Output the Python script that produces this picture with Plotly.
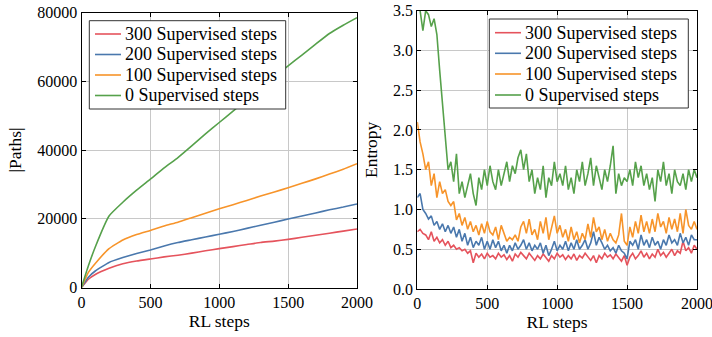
import plotly.graph_objects as go

# ---------------- data ----------------
series_names = ["300 Supervised steps", "200 Supervised steps",
                "100 Supervised steps", "0 Supervised steps"]
colors = ["#e5535c", "#4a78ad", "#f7942a", "#56a14b"]

# left panel: |Paths| vs RL steps
paths_steps = [0, 50, 100, 200, 300, 400, 500, 600, 700, 800, 900, 1000,
               1100, 1200, 1300, 1400, 1500, 1600, 1700, 1800, 1900, 2000]
paths_300 = [0, 2400, 3800, 5600, 6900, 7700, 8300, 8900, 9400, 10000, 10700, 11300,
             11900, 12500, 13100, 13500, 14000, 14600, 15200, 15800, 16400, 17000]
paths_200 = [0, 3000, 4800, 7300, 8700, 9900, 10900, 12100, 13100, 13900, 14700, 15500,
             16300, 17200, 18100, 19000, 19900, 20800, 21700, 22600, 23400, 24300]
paths_100 = [0, 4400, 7000, 11300, 13800, 15400, 16600, 17900, 19000, 20300, 21600, 22900,
             24100, 25300, 26600, 27800, 29000, 30300, 31600, 33000, 34400, 36000]
paths_0 = [0, 6300, 11800, 20800, 24800, 28300, 31500, 34800, 37800, 41200, 44700, 48000,
           51300, 54700, 58000, 61300, 64500, 67600, 70800, 73900, 76300, 78500]

# right panel: Entropy vs RL steps (every 20 steps)
entropy_steps = list(range(0, 2001, 20))
entropy_300 = [0.72, 0.75, 0.70, 0.68, 0.62, 0.72, 0.60, 0.65, 0.58, 0.62,
               0.55, 0.60, 0.52, 0.55, 0.50, 0.52, 0.48, 0.50, 0.45, 0.48,
               0.33, 0.45, 0.40, 0.44, 0.38, 0.45, 0.40, 0.42, 0.38, 0.45,
               0.40, 0.43, 0.37, 0.42, 0.35, 0.44, 0.40, 0.46, 0.42, 0.38,
               0.45, 0.40, 0.36, 0.42, 0.38, 0.44, 0.40, 0.35, 0.42, 0.38,
               0.45, 0.40, 0.43, 0.37, 0.42, 0.38, 0.44, 0.36, 0.42, 0.39,
               0.45, 0.40, 0.36, 0.42, 0.33, 0.42, 0.38, 0.45, 0.40, 0.43,
               0.38, 0.44, 0.40, 0.35, 0.42, 0.30, 0.40, 0.45, 0.38, 0.42,
               0.48, 0.40, 0.45, 0.38, 0.44, 0.40, 0.50, 0.42, 0.46, 0.40,
               0.45, 0.50, 0.42, 0.48, 0.45, 0.60, 0.48, 0.52, 0.45, 0.55,
               0.50]
entropy_200 = [1.15, 1.20, 1.00, 0.95, 0.88, 0.92, 0.80, 0.85, 0.75, 0.82,
               0.72, 0.80, 0.70, 0.78, 0.65, 0.75, 0.60, 0.70, 0.55, 0.65,
               0.52, 0.60, 0.55, 0.65, 0.50, 0.60, 0.50, 0.62, 0.52, 0.60,
               0.48, 0.55, 0.45, 0.55, 0.48, 0.58, 0.50, 0.55, 0.62, 0.50,
               0.58, 0.48, 0.55, 0.50, 0.58, 0.45, 0.55, 0.42, 0.50, 0.60,
               0.48, 0.55, 0.50, 0.60, 0.48, 0.58, 0.50, 0.62, 0.50, 0.55,
               0.62, 0.50, 0.58, 0.72, 0.55, 0.65, 0.58, 0.50, 0.55, 0.48,
               0.52, 0.45, 0.55, 0.48, 0.45, 0.38, 0.60, 0.55, 0.62, 0.50,
               0.68, 0.55, 0.62, 0.52, 0.65, 0.55, 0.60, 0.50, 0.62, 0.55,
               0.68, 0.58, 0.62, 0.55, 0.70, 0.58, 0.65, 0.55, 0.68, 0.62,
               0.62]
entropy_100 = [2.10, 1.85, 1.70, 1.50, 1.60, 1.30, 1.45, 1.15, 1.35, 1.20,
               1.25, 1.10, 1.05, 1.10, 0.87, 0.95, 0.80, 0.90, 0.75, 0.85,
               0.72, 0.80, 0.68, 0.82, 0.70, 0.85, 0.72, 0.68, 0.78, 0.62,
               0.80, 0.70, 0.60, 0.65, 0.62, 0.68, 0.60, 0.78, 0.85, 0.70,
               0.88, 0.68, 0.75, 0.62, 0.85, 0.70, 0.90, 0.62, 0.78, 0.92,
               0.70, 0.80, 0.65, 0.75, 0.60, 0.78, 0.62, 0.72, 0.58, 0.70,
               0.62, 0.82, 0.65, 0.90, 0.72, 0.78, 0.62, 0.75, 0.60, 0.70,
               0.62, 0.58, 0.68, 0.95, 0.60, 0.55, 0.78, 0.65, 0.85, 0.70,
               0.93, 0.72, 0.85, 0.70, 0.88, 0.72, 0.95, 0.78, 0.85, 0.70,
               0.90, 0.75, 0.88, 0.72, 0.95, 0.70, 1.00, 0.80, 0.75, 0.85,
               0.75]
entropy_0 = [3.60, 3.50, 3.25, 3.50, 3.45, 3.30, 3.40, 3.20, 2.75, 2.30,
             1.85, 1.50, 1.60, 1.35, 1.70, 1.20, 1.35, 1.15, 1.30, 1.45,
             1.20, 1.05, 1.40, 1.25, 1.50, 1.30, 1.55, 1.35, 1.25, 1.50,
             1.30, 1.45, 1.60, 1.35, 1.55, 1.45, 1.65, 1.75, 1.50, 1.70,
             1.35, 1.50, 1.20, 1.40, 1.25, 1.55, 1.15, 1.40, 1.30, 1.60,
             1.35, 1.45, 1.30, 1.55, 1.25, 1.40, 1.20, 1.50, 1.35, 1.60,
             1.30, 1.45, 1.65, 1.30, 1.55, 1.40, 1.25, 1.50, 1.35, 1.55,
             1.80, 1.20, 1.45, 1.30, 1.40, 1.35, 1.50, 1.30, 1.60, 1.40,
             1.55, 1.30, 1.45, 1.25, 1.40, 1.10, 1.50, 1.35, 1.60, 1.30,
             1.45, 1.20, 1.50, 1.35, 1.30, 1.45, 1.25, 1.50, 1.35, 1.50,
             1.40]

x_ticks = [0, 500, 1000, 1500, 2000]
paths_ticks = [0, 20000, 40000, 60000, 80000]
entropy_ticks = [0.0, 0.5, 1.0, 1.5, 2.0, 2.5, 3.0, 3.5]

# ---------------- figure ----------------
FONT = "Liberation Serif"
W, H = 712, 337
TICK_SIZE = 16
TITLE_SIZE = 17.5
LEG_SIZE = 18

fig = go.Figure()
paths_series = [paths_300, paths_200, paths_100, paths_0]
entropy_series = [entropy_300, entropy_200, entropy_100, entropy_0]

for name, col, ys in zip(series_names, colors, paths_series):
    fig.add_trace(go.Scatter(x=paths_steps, y=ys, mode="lines", name=name,
                             line=dict(color=col, width=1.6, shape="spline", smoothing=0.4),
                             xaxis="x", yaxis="y", showlegend=False))
for name, col, ys in zip(series_names, colors, entropy_series):
    fig.add_trace(go.Scatter(x=entropy_steps, y=ys, mode="lines", name=name,
                             line=dict(color=col, width=1.6),
                             xaxis="x2", yaxis="y2", showlegend=False))


def px_x(p):
    return p / W


def px_y(p):
    return 1 - p / H


axis_common = dict(showline=True, linecolor="black", linewidth=1, mirror="ticks",
                   ticks="inside", ticklen=4, tickcolor="black", showgrid=True,
                   gridcolor="#c8c8c8", gridwidth=1, zeroline=False, automargin=False,
                   ticklabeloverflow="allow",
                   tickfont=dict(family=FONT, size=TICK_SIZE, color="black"))


def title(text, standoff):
    return dict(text=text, standoff=standoff,
                font=dict(family=FONT, size=TITLE_SIZE, color="black"))


fig.update_layout(
    width=W, height=H,
    margin=dict(l=0, r=0, t=0, b=0),
    paper_bgcolor="white", plot_bgcolor="white",
    font=dict(family=FONT, size=TICK_SIZE, color="black"),
    showlegend=False,
    xaxis=dict(domain=[px_x(81.5), px_x(357)], range=[0, 2000], tickvals=x_ticks,
               anchor="y", title=title("RL steps", 1), **axis_common),
    yaxis=dict(domain=[px_y(287.5), px_y(12.5)], range=[0, 80000], tickvals=paths_ticks,
               tickformat="d", anchor="x", title=title("|Paths|", 11), **axis_common),
    xaxis2=dict(domain=[px_x(417.3), px_x(697)], range=[0, 2000], tickvals=x_ticks,
                anchor="y2", title=title("RL steps", 1), **axis_common),
    yaxis2=dict(domain=[px_y(289), px_y(10.7)], range=[0, 3.5], tickvals=entropy_ticks,
                tickformat=".1f", anchor="x2", title=title("Entropy", 10), **axis_common),
)

# legends (box, sample lines, labels) in paper coordinates
legend_specs = [
    dict(box=(89.3, 20.7, 285.7, 109), sx=(95, 121), tx=124, rows=(34, 54.5, 75, 95.5)),
    dict(box=(489.3, 19, 688.3, 108), sx=(495, 521), tx=524, rows=(32.7, 53.3, 74, 95)),
]
for spec in legend_specs:
    x0, y0, x1, y1 = spec["box"]
    fig.add_shape(type="rect", xref="paper", yref="paper",
                  x0=px_x(x0), x1=px_x(x1), y0=px_y(y1), y1=px_y(y0),
                  line=dict(color="#333333", width=1), fillcolor="white", layer="above")
    for name, col, ry in zip(series_names, colors, spec["rows"]):
        fig.add_shape(type="line", xref="paper", yref="paper",
                      x0=px_x(spec["sx"][0]), x1=px_x(spec["sx"][1]),
                      y0=px_y(ry), y1=px_y(ry),
                      line=dict(color=col, width=1.6), layer="above")
        fig.add_annotation(xref="paper", yref="paper", x=px_x(spec["tx"]), y=px_y(ry),
                           xanchor="left", yanchor="middle", showarrow=False,
                           text=name, borderpad=0,
                           font=dict(family=FONT, size=LEG_SIZE, color="black"))

fig.write_html("out.html",
               config={"displayModeBar": False, "staticPlot": True},
               post_script="document.body.style.margin='0';document.body.style.overflow='hidden';")
